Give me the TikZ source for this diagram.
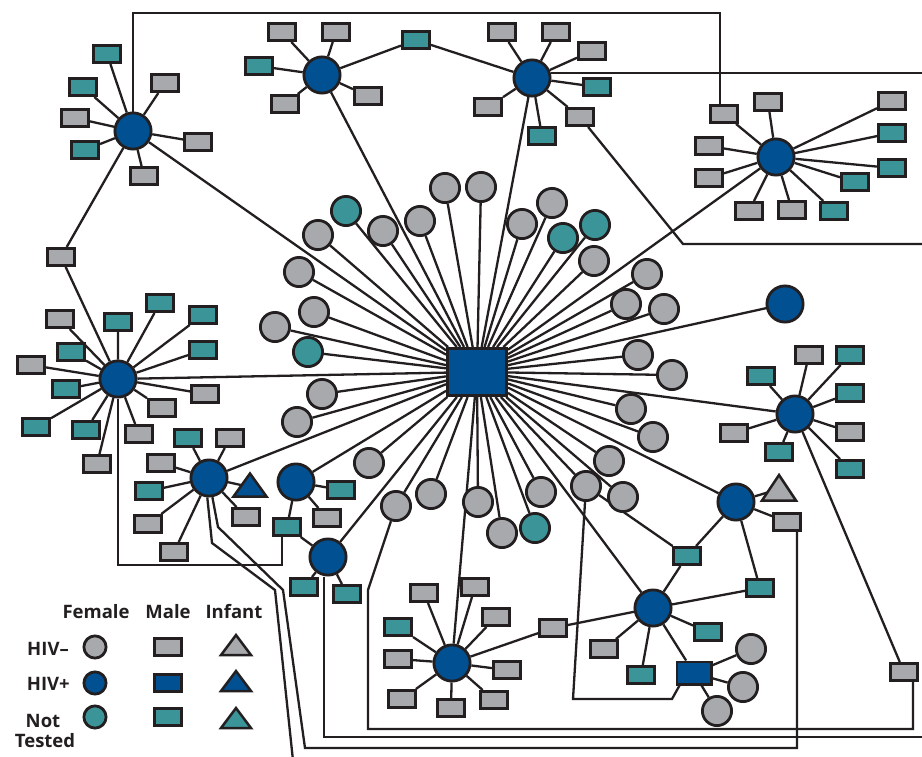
\documentclass[tikz,border=0pt]{standalone}
\usepackage{fontspec}
\setmainfont{Open Sans}
\usepackage{tikz}
\usetikzlibrary{backgrounds}

\definecolor{hivneg}{RGB}{167,169,172}
\definecolor{hivpos}{RGB}{0,80,146}
\definecolor{untested}{RGB}{58,148,152}
\definecolor{ink}{RGB}{35,31,32}

\tikzstyle{line} = [draw=ink, line width=2.3pt]
\tikzstyle{fneg} = [circle, draw=ink, line width=2.8pt, inner sep=0pt, minimum size=29.2pt, fill=hivneg]
\tikzstyle{fnt} = [fneg, fill=untested]
\tikzstyle{fpos} = [fneg, fill=hivpos, minimum size=36.2pt]
\tikzstyle{mneg} = [rectangle, draw=ink, line width=2.8pt, inner sep=0pt, minimum width=27.2pt, minimum height=17.2pt, fill=hivneg]
\tikzstyle{mnt} = [mneg, fill=untested]
\tikzstyle{mpos} = [mneg, fill=hivpos]
\tikzstyle{infant} = [draw=ink, line width=2.5pt, line join=miter]
\tikzstyle{key} = [inner sep=0pt, text=ink, font=\fontsize{18.5}{20}\selectfont\bfseries]

\begin{document}
\begin{tikzpicture}[x=1pt, y=-1pt]
		\useasboundingbox (0,0) rectangle (922,756);
		% index case and his female partners
		\node [mpos, minimum width=59.2pt, minimum height=47.2pt] (index) at (477,372) {};
		\node [fneg] (c1) at (445,188) {};
		\node [fneg] (c2) at (481,187) {};
		\node [fneg] (c3) at (420,221) {};
		\node [fneg] (c4) at (383,231) {};
		\node [fnt] (c5) at (346,211) {};
		\node [fneg] (c6) at (318,235) {};
		\node [fneg] (c7) at (522,224) {};
		\node [fneg] (c8) at (552,203) {};
		\node [fnt] (c9) at (563,238) {};
		\node [fnt] (c10) at (595,225) {};
		\node [fneg] (c11) at (594,261) {};
		\node [fneg] (c12) at (647,274) {};
		\node [fneg] (c13) at (626,304) {};
		\node [fneg] (c14) at (664,309) {};
		\node [fneg] (c15) at (638,355) {};
		\node [fneg] (c16) at (672,375) {};
		\node [fneg] (c17) at (631,409) {};
		\node [fneg] (c18) at (653,437) {};
		\node [fneg] (c19) at (609,461) {};
		\node [fneg] (c20) at (586,486) {};
		\node [fneg] (c21) at (623,497) {};
		\node [fneg] (c22) at (541,492) {};
		\node [fnt] (c23) at (535,528) {};
		\node [fneg] (c24) at (502,533) {};
		\node [fneg] (c25) at (478,502) {};
		\node [fneg] (c26) at (431,494) {};
		\node [fneg] (c27) at (396,506) {};
		\node [fneg] (c28) at (369,463) {};
		\node [fneg] (c29) at (299,272) {};
		\node [fneg] (c30) at (314,312) {};
		\node [fneg] (c31) at (275,327) {};
		\node [fnt] (c32) at (308,352) {};
		\node [fneg] (c33) at (322,394) {};
		\node [fneg] (c34) at (297,422) {};
		\node [fpos] (fP) at (785,304) {};

		% female A
		\node [fpos] (fA) at (133,131) {};
		\node [mnt] (mA1) at (107,54) {};
		\node [mnt] (mA2) at (83,87) {};
		\node [mneg] (mA3) at (75,118) {};
		\node [mnt] (mA4) at (85,150) {};
		\node [mneg] (mA5) at (165,83) {};
		\node [mneg] (mA6) at (198,142) {};
		\node [mneg] (mA7) at (144,176) {};
		\node [mneg] (mAE) at (61,257) {};

		% female B
		\node [fpos] (fB) at (322,75) {};
		\node [mneg] (mB1) at (282,32) {};
		\node [mneg] (mB2) at (336,32) {};
		\node [mnt] (mB3) at (259,66) {};
		\node [mneg] (mB4) at (285,104) {};
		\node [mneg] (mB5) at (368,96) {};
		\node [mnt] (mBC) at (416,40) {};

		% female C
		\node [fpos] (fC) at (532,78) {};
		\node [mneg] (mC1) at (502,32) {};
		\node [mneg] (mC2) at (556,32) {};
		\node [mneg] (mC3) at (592,51) {};
		\node [mnt] (mC4) at (597,87) {};
		\node [mneg] (mC5) at (580,117) {};
		\node [mnt] (mC6) at (542,136) {};
		\node [mneg] (mC7) at (488,107) {};

		% female D
		\node [fpos] (fD) at (776,157) {};
		\node [mneg] (mD1) at (724,114) {};
		\node [mneg] (mD2) at (768,102) {};
		\node [mneg] (mD3) at (709,146) {};
		\node [mneg] (mD4) at (709,178) {};
		\node [mneg] (mD5) at (749,211) {};
		\node [mneg] (mD6) at (792,210) {};
		\node [mnt] (mD7) at (834,211) {};
		\node [mnt] (mD8) at (855,182) {};
		\node [mnt] (mD9) at (892,168) {};
		\node [mnt] (mD10) at (892,133) {};
		\node [mneg] (mD11) at (892,101) {};

		% female E
		\node [fpos] (fE) at (118,379) {};
		\node [mneg] (mE1) at (60,319) {};
		\node [mnt] (mE2) at (118,322) {};
		\node [mnt] (mE3) at (160,303) {};
		\node [mnt] (mE4) at (203,315) {};
		\node [mnt] (mE5) at (71,352) {};
		\node [mnt] (mE6) at (203,350) {};
		\node [mneg] (mE7) at (31,365) {};
		\node [mnt] (mE8) at (66,389) {};
		\node [mneg] (mE9) at (205,394) {};
		\node [mneg] (mE10) at (162,408) {};
		\node [mnt] (mE11) at (36,427) {};
		\node [mnt] (mE12) at (86,430) {};
		\node [mneg] (mE13) at (139,434) {};
		\node [mneg] (mE14) at (97,464) {};

		% female F
		\node [fpos] (fF) at (209,478) {};
		\node [mnt] (mF1) at (188,438) {};
		\node [mneg] (mF2) at (230,438) {};
		\node [mneg] (mF3) at (161,463) {};
		\node [mnt] (mF4) at (149,491) {};
		\node [mneg] (mF5) at (148,524) {};
		\node [mneg] (mF6) at (174,552) {};
		\node [mneg] (mF7) at (246,517) {};
		\coordinate (iF) at (250,487);

		% females H
		\node [fpos] (fH) at (296,482) {};
		\node [mnt] (mH1) at (341,490) {};
		\node [mneg] (mH2) at (327,518) {};
		\node [mnt] (mHH) at (287,527) {};
		\node [fpos] (fH2) at (328,557) {};
		\node [mnt] (mH3) at (304,587) {};
		\node [mnt] (mH4) at (347,594) {};

		% female G
		\node [fpos] (fG) at (795,414) {};
		\node [mneg] (mG1) at (809,355) {};
		\node [mnt] (mG2) at (850,355) {};
		\node [mnt] (mG3) at (761,376) {};
		\node [mnt] (mG4) at (850,393) {};
		\node [mneg] (mG5) at (850,432) {};
		\node [mnt] (mG6) at (850,469) {};
		\node [mneg] (mG7) at (734,433) {};
		\node [mnt] (mG8) at (779,452) {};
		\node [mneg] (mGfar) at (904,672) {};

		% females I and J
		\node [fpos] (fI) at (736,502) {};
		\coordinate (iI) at (779,489);
		\node [mneg] (mI1) at (787,522) {};
		\node [mnt] (mIJ1) at (687,556) {};
		\node [mnt] (mIJ2) at (760,588) {};
		\node [fpos] (fJ) at (653,608) {};
		\node [mneg] (mJ1) at (604,649) {};
		\node [mnt] (mJ2) at (641,675) {};
		\node [mnt] (mJ3) at (708,632) {};
		\node [mpos, minimum width=34.2pt, minimum height=22.2pt] (mJbig) at (694,673) {};
		\node [mneg] (mJK) at (553,628) {};
		\node [fneg] (fJ1) at (751,649) {};
		\node [fneg] (fJ2) at (743,687) {};
		\node [fneg] (fJ3) at (717,711) {};

		% female K
		\node [fpos] (fK) at (452,663) {};
		\node [mneg] (mK1) at (424,593) {};
		\node [mneg] (mK2) at (475,587) {};
		\node [mnt] (mK3) at (398,627) {};
		\node [mneg] (mK4) at (496,617) {};
		\node [mneg] (mK5) at (398,659) {};
		\node [mneg] (mK6) at (507,670) {};
		\node [mneg] (mK7) at (402,699) {};
		\node [mneg] (mK8) at (451,708) {};
		\node [mneg] (mK9) at (494,700) {};

		\begin{scope}[on background layer]
		\fill [white] (0,0) rectangle (922,756);
		\path [line] (index) to (c1) (index) to (c2) (index) to (c3) (index) to (c4) (index) to (c5) (index) to (c6) (index) to (c7) (index) to (c8) (index) to (c9) (index) to (c10) (index) to (c11) (index) to (c12);
		\path [line] (index) to (c13) (index) to (c14) (index) to (c15) (index) to (c16) (index) to (c17) (index) to (c18) (index) to (c19) (index) to (c20) (index) to (c21) (index) to (c22) (index) to (c23) (index) to (c24);
		\path [line] (index) to (c25) (index) to (c26) (index) to (c27) (index) to (c28) (index) to (c29) (index) to (c30) (index) to (c31) (index) to (c32) (index) to (c33) (index) to (c34) (index) to (fP);
		\path [line] (fA) to (mA1) (fA) to (mA2) (fA) to (mA3) (fA) to (mA4) (fA) to (mA5) (fA) to (mA6) (fA) to (mA7) (fA) to (mAE) (fA) to (index);
		\path [line] (fA) -- (133,13) -- (720,13) -- ([xshift=-4pt]mD1.north);
		\path [line] (fB) to (mB1) (fB) to (mB2) (fB) to (mB3) (fB) to (mB4) (fB) to (mB5) (fB) to (mBC) (mBC) to (fC) (fB) to (index);
		\path [line] (fC) to (mC1) (fC) to (mC2) (fC) to (mC3) (fC) to (mC4) (fC) to (mC5) (fC) to (mC6) (fC) to (mC7) (fC) to (index);
		\path [line] (fC.15) -- ++(420,0);
		\path [line] (mC5) -- (683,244) -- (930,244);
		\path [line] (fD) to (mD1) (fD) to (mD2) (fD) to (mD3) (fD) to (mD4) (fD) to (mD5) (fD) to (mD6) (fD) to (mD7) (fD) to (mD8) (fD) to (mD9) (fD) to (mD10) (fD) to (mD11) (fD) to (index);
		\path [line] (fE) to (mAE) (fE) to (mE1) (fE) to (mE2) (fE) to (mE3) (fE) to (mE4) (fE) to (mE5) (fE) to (mE6) (fE) to (mE7) (fE) to (mE8) (fE) to (mE9) (fE) to (mE10) (fE) to (mE11) (fE) to (mE12) (fE) to (mE13) (fE) to (mE14) (fE) to (index);
		\path [line] (fE) |- (282,565) -- ([xshift=-5pt]mHH.south);
		\path [line] (fF) to (mF1) (fF) to (mF2) (fF) to (mF3) (fF) to (mF4) (fF) to (mF5) (fF) to (mF6) (fF) to (mF7) (fF) to (iF) (fF) to (index);
		\path [line] (fF.-95) -- (212,543) -- (275,590) -- (294,770);
		\path [line] (fF.-80) -- (218,527) -- (283,590) -- (305,748) -- (797,748) -- ([xshift=10pt]mI1.south);
		\path [line] (fH) to (mH1) (fH) to (mH2) (fH) to (mHH) (fH) to (index);
		\path [line] (fH2) to (mHH) (fH2) to (mH3) (fH2) to (mH4) (fH2) to (index);
		\path [line] ([xshift=-4pt]fH2.south) -- (324,737) -- (930,737);
		\path [line] (fG) to (mG1) (fG) to (mG2) (fG) to (mG3) (fG) to (mG4) (fG) to (mG5) (fG) to (mG6) (fG) to (mG7) (fG) to (mG8) (fG) to (mGfar) (fG) to (index);
		\path [line] (c27) -- (368,590) -- (368,729) -- (913,729) -- ([xshift=9pt]mGfar.south);
		\path [line] (fI) to (iI) (fI) to (mI1) (fI) to (mIJ1) (fI) to (mIJ2) (fI) to (index);
		\path [line] (fJ) to (mIJ1) (fJ) to (mIJ2) (fJ) to (mJ1) (fJ) to (mJ2) (fJ) to (mJ3) (fJ) to (mJbig) (fJ) to (mJK) (fJ) to (index);
		\path [line] (mJbig) to (fJ1) (mJbig) to (fJ2) (mJbig) to (fJ3);
		\path [line] (c20) to (mIJ1);
		\path [line] (c20) -- (573,699) -- (672,699) -- ([xshift=4pt]mJbig.south west);
		\path [line] (fK) to (mK1) (fK) to (mK2) (fK) to (mK3) (fK) to (mK4) (fK) to (mK5) (fK) to (mK6) (fK) to (mK7) (fK) to (mK8) (fK) to (mK9) (fK) to (mJK) (fK) to (index);
		\end{scope}

		% infants
		\draw [infant, fill=hivpos] (iF) ++(0,-13.5) -- ++(16.5,23) -- ++(-33,0) -- cycle;
		\draw [infant, fill=hivneg] (iI) ++(0,-14) -- ++(17,25.5) -- ++(-34,0) -- cycle;

		% key
		\node [key, anchor=base] (kfem) at (96,618) {Female};
		\node [key, anchor=base] (kmale) at (168,618) {Male};
		\node [key, anchor=base] (kinf) at (234,618) {Infant};
		\node [key, anchor=base east] (kneg) at (69,655) {HIV–};
		\node [key, anchor=base east] (kpos) at (70,690) {HIV+};
		\node [key, anchor=base] (knot) at (43,727) {Not};
		\node [key, anchor=base] (ktest) at (45,747) {Tested};
		\node [fneg, minimum size=22.2pt] (lfneg) at (95,647) {};
		\node [fpos, minimum size=22.2pt] (lfpos) at (95,683) {};
		\node [fnt, minimum size=22.2pt] (lfnt) at (95,717) {};
		\node [mneg] (lmneg) at (168,647) {};
		\node [mpos] (lmpos) at (168,683) {};
		\node [mnt] (lmnt) at (168,717) {};
		\coordinate (liNeg) at (236,645);
		\coordinate (liPos) at (236,681);
		\coordinate (liNt) at (236,718);
		\draw [infant, fill=hivneg] (liNeg) ++(0,-10) -- ++(15,20) -- ++(-30,0) -- cycle;
		\draw [infant, fill=hivpos] (liPos) ++(0,-10) -- ++(15,20) -- ++(-30,0) -- cycle;
		\draw [infant, fill=untested] (liNt) ++(0,-10) -- ++(15,20) -- ++(-30,0) -- cycle;
	\end{tikzpicture}
\end{document}
